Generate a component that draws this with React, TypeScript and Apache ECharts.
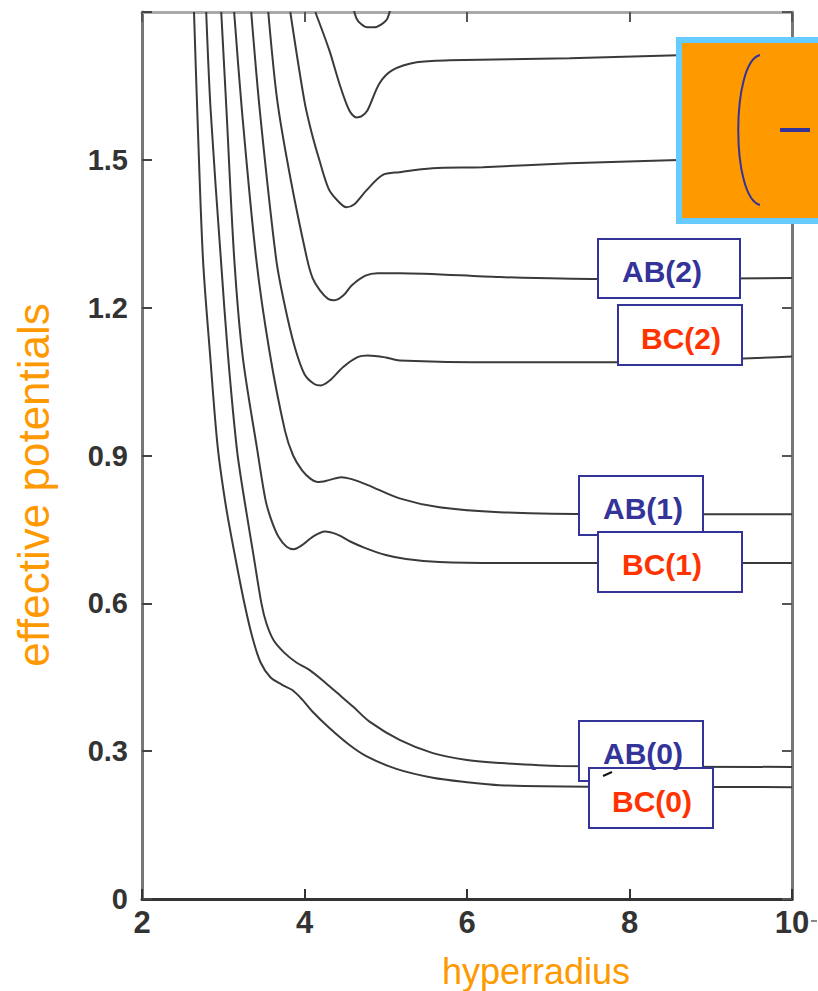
import React, { useEffect, useRef } from "react";
import * as echarts from "echarts";

// x: hyperradius, y: effective potential
const xTicks = [2, 4, 6, 8, 10];
const yTicks = [0, 0.3, 0.6, 0.9, 1.2, 1.5];

const curveBC0: [number, number][] = [
  [2.64, 1.8], [2.68, 1.6], [2.75, 1.3], [2.84, 1.1], [2.93, 0.92], [3.03, 0.8],
  [3.14, 0.7], [3.26, 0.6], [3.36, 0.53], [3.46, 0.48], [3.58, 0.45], [3.72, 0.435],
  [3.85, 0.424], [3.97, 0.405], [4.1, 0.38], [4.3, 0.348], [4.55, 0.313], [4.76, 0.29],
  [5.13, 0.264], [5.58, 0.246], [6.0, 0.237], [6.4, 0.231], [7.5, 0.228], [10, 0.227],
];
const curveAB0: [number, number][] = [
  [2.79, 1.8], [2.845, 1.6], [2.97, 1.3], [3.06, 1.1], [3.17, 0.91], [3.27, 0.8],
  [3.37, 0.7], [3.47, 0.6], [3.53, 0.56], [3.62, 0.525], [3.75, 0.5], [3.9, 0.48],
  [4.06, 0.465], [4.25, 0.44], [4.39, 0.42], [4.6, 0.39], [4.8, 0.36], [5.17, 0.323],
  [5.58, 0.296], [6.0, 0.282], [6.4, 0.276], [7.14, 0.27], [10, 0.268],
];
const curveBC1: [number, number][] = [
  [2.975, 1.8], [3.04, 1.6], [3.135, 1.3], [3.24, 1.1], [3.42, 0.91], [3.52, 0.81],
  [3.59, 0.77], [3.68, 0.735], [3.78, 0.715], [3.87, 0.71], [3.97, 0.718], [4.1, 0.735],
  [4.25, 0.746], [4.4, 0.74], [4.57, 0.725], [4.75, 0.712], [5.0, 0.698], [5.25, 0.69],
  [5.66, 0.684], [6.4, 0.682], [10, 0.682],
];
const curveAB1: [number, number][] = [
  [3.134, 1.8], [3.23, 1.6], [3.405, 1.3], [3.57, 1.11], [3.76, 0.95], [3.86, 0.9],
  [3.97, 0.87], [4.08, 0.852], [4.16, 0.846], [4.3, 0.85], [4.45, 0.856], [4.58, 0.852],
  [4.78, 0.84], [5.17, 0.813], [5.66, 0.795], [6.4, 0.785], [7.635, 0.781], [10, 0.781],
];
const curveBC2: [number, number][] = [
  [3.344, 1.8], [3.45, 1.6], [3.65, 1.3], [3.75, 1.21], [3.88, 1.12], [4.0, 1.065],
  [4.12, 1.045], [4.2, 1.042], [4.31, 1.052], [4.48, 1.08], [4.66, 1.1], [4.78, 1.103],
  [5.0, 1.099], [5.17, 1.093], [6.4, 1.089], [7.635, 1.089], [10, 1.101],
];
const curveAB2: [number, number][] = [
  [3.554, 1.8], [3.665, 1.62], [3.83, 1.46], [4.03, 1.3], [4.1, 1.26], [4.19, 1.235],
  [4.29, 1.218], [4.37, 1.215], [4.48, 1.225], [4.58, 1.245], [4.75, 1.265], [4.9, 1.27],
  [5.17, 1.27], [6.4, 1.262], [7.635, 1.258], [10, 1.26],
];
const curveC3: [number, number][] = [
  [3.825, 1.8], [3.998, 1.62], [4.08, 1.56], [4.182, 1.5], [4.3, 1.44], [4.42, 1.415],
  [4.515, 1.404], [4.614, 1.41], [4.762, 1.438], [4.959, 1.469], [5.169, 1.475],
  [5.576, 1.483], [6.192, 1.485], [7.265, 1.493], [8.498, 1.499], [10, 1.505],
];
const curveC4: [number, number][] = [
  [4.133, 1.8], [4.306, 1.722], [4.429, 1.655], [4.552, 1.6], [4.639, 1.586],
  [4.7, 1.588], [4.774, 1.6], [4.922, 1.655], [5.083, 1.682], [5.379, 1.698],
  [5.785, 1.702], [7.265, 1.706], [8.597, 1.712], [10, 1.716],
];
const curveC5: [number, number][] = [
  [4.57, 1.83], [4.639, 1.787], [4.7, 1.775], [4.774, 1.769], [4.86, 1.769],
  [4.947, 1.775], [5.021, 1.787], [5.09, 1.83],
];

const curves = [curveBC0, curveAB0, curveBC1, curveAB1, curveBC2, curveAB2, curveC3, curveC4, curveC5];

const boxLabels = [
  { text: "AB(2)", color: "#333399", x: 598, y: 239, w: 142, h: 59, tx: 662, ty: 271 },
  { text: "BC(2)", color: "#FF3300", x: 618, y: 305, w: 124, h: 60, tx: 681, ty: 338 },
  { text: "AB(1)", color: "#333399", x: 579, y: 476, w: 124, h: 59, tx: 643, ty: 508 },
  { text: "BC(1)", color: "#FF3300", x: 598, y: 532, w: 144, h: 60, tx: 662, ty: 564 },
  { text: "AB(0)", color: "#333399", x: 579, y: 721, w: 124, h: 60, tx: 643, ty: 753 },
  { text: "BC(0)", color: "#FF3300", x: 589, y: 768, w: 124, h: 60, tx: 652, ty: 801 },
];

const FONT = "'Liberation Sans', Arial, Helvetica, sans-serif";

export default function App() {
  const ref = useRef<HTMLDivElement>(null);
  useEffect(() => {
    if (!ref.current) return;
    const chart = echarts.init(ref.current, null, { renderer: "svg" });
    const axisLabelStyle = {
      fontSize: 29,
      fontWeight: "bold" as const,
      color: "#333",
      fontFamily: FONT,
    };
    const graphics: any[] = [];
    boxLabels.forEach((b) => {
      graphics.push({
        type: "rect",
        z: 100,
        shape: { x: b.x, y: b.y, width: b.w, height: b.h },
        style: { fill: "#fff", stroke: "#333399", lineWidth: 2 },
      });
      graphics.push({
        type: "text",
        z: 101,
        x: b.tx,
        y: b.ty,
        style: {
          text: b.text,
          fill: b.color,
          fontSize: 30,
          fontWeight: "bold",
          fontFamily: FONT,
          align: "center",
          verticalAlign: "middle",
        },
      });
    });
    graphics.push({
      type: "line",
      z: 102,
      shape: { x1: 603, y1: 776, x2: 612, y2: 772 },
      style: { stroke: "#111", lineWidth: 2 },
    });
    // orange box
    graphics.push({
      type: "rect",
      z: 100,
      shape: { x: 679, y: 40, width: 160, height: 181 },
      style: { fill: "#FF9900", stroke: "#66CCFF", lineWidth: 6 },
    });
    graphics.push({
      type: "bezierCurve",
      z: 101,
      shape: { x1: 760, y1: 55, x2: 760, y2: 205, cpx1: 731, cpy1: 62, cpx2: 731, cpy2: 198 },
      style: { stroke: "#333399", lineWidth: 2, fill: "none" },
    });
    graphics.push({
      type: "line",
      z: 101,
      shape: { x1: 780, y1: 130, x2: 810, y2: 130 },
      style: { stroke: "#333399", lineWidth: 4 },
    });
    // stray mark after 10
    graphics.push({
      type: "line",
      z: 101,
      shape: { x1: 811, y1: 921, x2: 817, y2: 921 },
      style: { stroke: "#888", lineWidth: 2 },
    });
    // axis titles
    graphics.push({
      type: "text",
      z: 101,
      x: 33,
      y: 485,
      rotation: Math.PI / 2,
      style: {
        text: "effective potentials",
        fill: "#FF9900",
        fontSize: 44,
        fontFamily: FONT,
        align: "center",
        verticalAlign: "middle",
      },
    });
    graphics.push({
      type: "text",
      z: 101,
      x: 536,
      y: 971,
      style: {
        text: "hyperradius",
        fill: "#FF9900",
        fontSize: 36,
        fontFamily: FONT,
        align: "center",
        verticalAlign: "middle",
      },
    });

    chart.setOption({
      animation: false,
      grid: { left: 142, right: 26, top: 12, bottom: 92, containLabel: false },
      xAxis: [
        {
          type: "value",
          position: "bottom",
          min: xTicks[0],
          max: xTicks[xTicks.length - 1],
          interval: 2,
          axisLine: { show: true, onZero: false, lineStyle: { color: "#333", width: 3 } },
          axisTick: { show: true, inside: true, length: 10, lineStyle: { color: "#333", width: 2 } },
          axisLabel: { ...axisLabelStyle, fontSize: 31, margin: 8 },
          splitLine: { show: false },
        },
        {
          type: "value",
          position: "top",
          min: xTicks[0],
          max: xTicks[xTicks.length - 1],
          interval: 2,
          axisLine: { show: true, onZero: false, lineStyle: { color: "#aaa", width: 3 } },
          axisTick: { show: true, inside: true, length: 10, lineStyle: { color: "#555", width: 2 } },
          axisLabel: { show: false },
          splitLine: { show: false },
        },
      ],
      yAxis: [
        {
          type: "value",
          position: "left",
          min: 0,
          max: 1.8,
          interval: 0.3,
          axisLine: { show: true, onZero: false, lineStyle: { color: "#777", width: 3 } },
          axisTick: { show: true, inside: true, length: 10, lineStyle: { color: "#444", width: 2 } },
          axisLabel: {
            ...axisLabelStyle,
            margin: 14,
            formatter: (v: number) => {
              const t = yTicks.find((k) => Math.abs(k - v) < 1e-6);
              return t === undefined ? "" : String(t);
            },
          },
          splitLine: { show: false },
        },
        {
          type: "value",
          position: "right",
          min: 0,
          max: 1.8,
          interval: 0.3,
          axisLine: { show: true, onZero: false, lineStyle: { color: "#777", width: 3 } },
          axisTick: { show: true, inside: true, length: 10, lineStyle: { color: "#555", width: 2 } },
          axisLabel: { show: false },
          splitLine: { show: false },
        },
      ],
      series: curves.map((c) => ({
        type: "line",
        xAxisIndex: 0,
        yAxisIndex: 0,
        data: c,
        showSymbol: false,
        symbol: "none",
        smooth: 0.3,
        clip: true,
        lineStyle: { color: "#3a3a3a", width: 2 },
        z: 2,
      })),
      graphic: graphics,
    });
    return () => chart.dispose();
  }, []);
  return (
    <div
      ref={ref}
      style={{ position: "absolute", left: 0, top: 0, width: 818, height: 991, background: "#fff" }}
    />
  );
}
